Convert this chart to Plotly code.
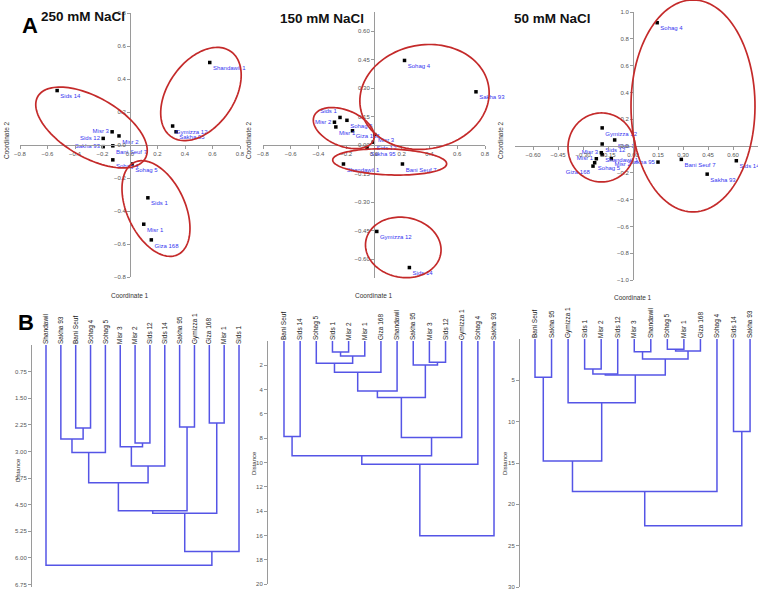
import numpy as np
import plotly.graph_objects as go

W, H = 758, 595

# ---------------- data: principal coordinates ----------------
names_250 = ["Shandawil 1", "Sids 14", "Gymizza 12", "Sakha 95", "Misr 3", "Misr 2", "Sids 12",
             "Sakha 93", "Bani Seuf 7", "Sohag 4", "Sohag 5", "Sids 1", "Misr 1", "Giza 168"]
coord1_250 = [0.58, -0.53, 0.31, 0.335, -0.13, -0.08, -0.195, -0.195, -0.125, -0.125, 0.015, 0.13, 0.10, 0.155]
coord2_250 = [0.50, 0.33, 0.115, 0.08, 0.08, 0.055, 0.04, -0.01, -0.005, -0.09, -0.115, -0.32, -0.48, -0.575]

names_150 = ["Sohag 4", "Sakha 93", "Sids 1", "Misr 2", "Sohag 5", "Misr 1", "Giza 168", "Misr 3",
             "Sids 12", "Sakha 95", "Shandawil 1", "Bani Seuf 7", "Gymizza 12", "Sids 14"]
coord1_150 = [0.22, 0.735, -0.245, -0.285, -0.195, -0.275, -0.155, 0.005, -0.005, -0.05, -0.22, 0.205, 0.02, 0.255]
coord2_150 = [0.445, 0.28, 0.145, 0.12, 0.13, 0.095, 0.075, 0.055, 0.015, -0.015, -0.10, -0.10, -0.455, -0.645]

names_50 = ["Sohag 4", "Gymizza 12", "Sids 1", "Sids 12", "Misr 3", "Shandawil 1", "Misr 1", "Misr 2",
            "Sohag 5", "Giza 168", "Sakha 95", "Bani Seuf 7", "Sids 14", "Sakha 93"]
coord1_50 = [0.145, -0.185, -0.11, -0.185, -0.19, -0.185, -0.22, -0.13, -0.23, -0.24, 0.15, 0.29, 0.62, 0.445]
coord2_50 = [0.92, 0.135, 0.045, 0.015, -0.05, -0.065, -0.095, -0.095, -0.125, -0.15, -0.12, -0.10, -0.11, -0.21]

# ---------------- data: dendrograms (leaf order, merges: child a, child b, distance) ----------------
leaves_250 = ["Shandawil", "Sakha 93", "Bani Seuf", "Sohag 4", "Sohag 5", "Misr 3", "Misr 2", "Sids 12",
              "Sids 14", "Sakha 95", "Gymizza 1", "Giza 168", "Misr 1", "Sids 1"]
merges_250 = [("Bani Seuf", "Sohag 4", 2.34), ("Sakha 93", 0, 2.65), ("Misr 2", "Sids 12", 2.76),
              ("Misr 3", 2, 2.87), (1, "Sohag 5", 3.03), (3, "Sids 14", 3.41), (4, 5, 3.88),
              ("Sakha 95", "Gymizza 1", 2.31), ("Giza 168", "Misr 1", 2.20), (6, 7, 4.67),
              (9, 8, 4.74), (10, "Sids 1", 5.82), ("Shandawil", 11, 6.21)]

leaves_150 = ["Bani Seuf", "Sids 14", "Sohag 5", "Sids 1", "Misr 2", "Misr 1", "Giza 168", "Shandawil",
              "Sakha 95", "Misr 3", "Sids 12", "Gymizza 1", "Sohag 4", "Sakha 93"]
merges_150 = [("Sids 1", "Misr 2", 0.9), (0, "Misr 1", 1.23), ("Sohag 5", 1, 1.84), (2, "Giza 168", 2.58),
              (3, "Shandawil", 4.12), ("Misr 3", "Sids 12", 1.75), ("Sakha 95", 5, 1.98), (4, 6, 4.64),
              (7, "Gymizza 1", 7.95), ("Bani Seuf", "Sids 14", 7.87), (9, 8, 9.44), (10, "Sohag 4", 10.15),
              (11, "Sakha 93", 16.02)]

leaves_50 = ["Bani Seuf", "Sakha 95", "Gymizza 1", "Sids 1", "Misr 2", "Sids 12", "Misr 3", "Shandawil",
             "Sohag 5", "Misr 1", "Giza 168", "Sohag 4", "Sids 14", "Sakha 93"]
merges_50 = [("Bani Seuf", "Sakha 95", 4.63), ("Sids 1", "Misr 2", 3.63), (1, "Sids 12", 4.23),
             ("Misr 3", "Shandawil", 1.53), ("Sohag 5", "Misr 1", 1.25), (4, "Giza 168", 1.45), (3, 5, 2.42),
             (2, 6, 4.35), ("Gymizza 1", 7, 7.7), (0, 8, 14.75), ("Sids 14", "Sakha 93", 11.2),
             (9, "Sohag 4", 18.46), (11, 10, 22.58)]

# ---------------- styling / layout ----------------
NARROW = "Liberation Sans Narrow, Arial Narrow, Liberation Sans, Arial"
SANS = "Liberation Sans, Arial"
AXC = "#9a9a9a"
TICKC = "#555555"
LABC = "#3535f0"
ELLC = "#c42a2a"
DENC = "#5555e6"

scatter_panels = [
    dict(names=names_250, x=coord1_250, y=coord2_250, box=(20, 240, 13, 277), xr=(-0.8, 0.8), yr=(-0.8, 0.8),
         xt=np.round(np.arange(-0.8, 0.81, 0.2), 2), xf=".1f", yt=np.round(np.arange(-0.8, 0.81, 0.2), 2), yf=".1f",
         pos={"Misr 3": "middle left", "Sids 12": "middle left", "Sakha 93": "middle left"},
         ell=[(0.516, 0.309, 52, 33, 55), (-0.28, 0.106, 62, 30, -30), (0.189, -0.385, 51, 29, -65)],
         title="250 mM NaCl", txy=(83, 16), c1=(130, 295), c2=(6, 140)),
    dict(names=names_150, x=coord1_150, y=coord2_150, box=(263, 485, 12, 278), xr=(-0.8, 0.8), yr=(-0.7, 0.7),
         xt=np.round(np.arange(-0.8, 0.81, 0.2), 2), xf=".1f", yt=np.round(np.arange(-0.6, 0.61, 0.15), 2), yf=".2f",
         pos={"Sids 1": "top left", "Misr 2": "middle left"},
         ell=[(0.364, 0.253, 65, 52, 10), (-0.218, 0.089, 32, 18, -22), (0.113, -0.089, 57, 13, -2),
              (0.211, -0.539, 38, 30, -10)],
         title="150 mM NaCl", txy=(322, 18), c1=(374, 295), c2=(248, 140)),
    dict(names=names_50, x=coord1_50, y=coord2_50, box=(515, 758, 12, 280), xr=(-0.708, 0.75), yr=(-1.0, 1.0),
         xt=np.round(np.arange(-0.6, 0.61, 0.15), 2), xf=".2f", yt=np.round(np.arange(-1.0, 1.01, 0.2), 2), yf=".1f",
         pos={"Misr 3": "middle left", "Misr 1": "middle left", "Giza 168": "bottom left", "Sakha 95": "middle left"},
         ell=[(0.36, 0.299, 106, 62, 90), (-0.189, -0.011, 34.5, 33.5, 90)],
         title="50 mM NaCl", txy=(552, 18), c1=(633, 297), c2=(500, 140)),
]

dendro_panels = [
    dict(leaves=leaves_250, merges=merges_250, box=(32, 250, 345, 587), xr=(-0.943, 13.74), yr=(6.82, 0),
         yt=np.round(np.arange(0.75, 6.76, 0.75), 2), yf=".2f", dist=(18, 470)),
    dict(leaves=leaves_150, merges=merges_150, box=(268, 505, 341, 584), xr=(-0.99, 13.68), yr=(20, 0),
         yt=list(range(2, 21, 2)), yf="d", dist=(254, 463)),
    dict(leaves=leaves_50, merges=merges_50, box=(520, 758, 339, 587), xr=(-0.907, 13.48), yr=(30, 0),
         yt=list(range(5, 31, 5)), yf="d", dist=(505, 463)),
]


def dom(box):
    x0, x1, y0, y1 = box
    return [x0 / W, x1 / W], [1 - y1 / H, 1 - y0 / H]


def dendro_lines(leaves, merges):
    pos = {n: (i, 0.0) for i, n in enumerate(leaves)}
    nodes = []
    xs, ys = [], []
    for a, b, h in merges:
        xa, ha = nodes[a] if isinstance(a, int) else pos[a]
        xb, hb = nodes[b] if isinstance(b, int) else pos[b]
        xs += [xa, xa, xb, xb, None]
        ys += [ha, h, h, hb, None]
        nodes.append(((xa + xb) / 2, h))
    return xs, ys


def note(text, px, py, size, family, color="#333", angle=0):
    return dict(text=text, x=px / W, y=1 - py / H, xref="paper", yref="paper", showarrow=False,
                xanchor="center", yanchor="middle", textangle=angle,
                font=dict(family=family, size=size, color=color))


fig = go.Figure()
layout = dict(width=W, height=H, margin=dict(l=0, r=0, t=0, b=0, pad=0), showlegend=False,
              template="none", plot_bgcolor="white", paper_bgcolor="white", hovermode=False)
shapes, annotations = [], []

for k, p in enumerate(scatter_panels, start=1):
    dx, dy = dom(p["box"])
    xr, yr = p["xr"], p["yr"]
    sfx = "" if k == 1 else str(k)
    px_per_x = (p["box"][1] - p["box"][0]) / (xr[1] - xr[0])
    px_per_y = (p["box"][3] - p["box"][2]) / (yr[1] - yr[0])
    zero_y = dy[0] + (0 - yr[0]) / (yr[1] - yr[0]) * (dy[1] - dy[0])
    zero_x = dx[0] + (0 - xr[0]) / (xr[1] - xr[0]) * (dx[1] - dx[0])
    axis_common = dict(showgrid=False, zeroline=False, showline=True, linecolor=AXC, linewidth=1,
                       ticks="outside", ticklen=3, tickcolor=AXC, automargin=False,
                       tickfont=dict(family=NARROW, size=6, color=TICKC), anchor="free")
    layout["xaxis" + sfx] = dict(axis_common, domain=dx, range=list(xr), position=zero_y,
                                 tickvals=list(p["xt"]), tickformat=p["xf"])
    layout["yaxis" + sfx] = dict(axis_common, domain=dy, range=list(yr), position=zero_x,
                                 tickvals=list(p["yt"]), tickformat=p["yf"])
    tp = [p["pos"].get(n, "bottom right") for n in p["names"]]
    fig.add_trace(go.Scatter(x=p["x"], y=p["y"], text=p["names"], mode="markers+text",
                             textposition=tp, cliponaxis=False,
                             marker=dict(color="black", size=3.5, symbol="square"),
                             textfont=dict(family=NARROW, size=6, color=LABC),
                             xaxis="x" + sfx, yaxis="y" + sfx))
    # ellipses (drawn in paper space so they are not clipped)
    t = np.linspace(0, 2 * np.pi, 120)
    for cx, cy, a, b, ang in p["ell"]:
        th = np.radians(ang)
        ex = a * np.cos(t) * np.cos(th) - b * np.sin(t) * np.sin(th)
        ey = a * np.cos(t) * np.sin(th) + b * np.sin(t) * np.cos(th)
        X = cx + ex / px_per_x
        Y = cy + ey / px_per_y
        PX = dx[0] + (X - xr[0]) / (xr[1] - xr[0]) * (dx[1] - dx[0])
        PY = dy[0] + (Y - yr[0]) / (yr[1] - yr[0]) * (dy[1] - dy[0])
        path = "M " + " L ".join(f"{u:.5f},{v:.5f}" for u, v in zip(PX, PY)) + " Z"
        shapes.append(dict(type="path", path=path, xref="paper", yref="paper",
                           line=dict(color=ELLC, width=1.7)))
    annotations.append(note("<b>" + p["title"] + "</b>", p["txy"][0], p["txy"][1], 13.5, SANS, "#111"))
    annotations.append(note("Coordinate 1", p["c1"][0], p["c1"][1], 6.5, NARROW))
    annotations.append(note("Coordinate 2", p["c2"][0], p["c2"][1], 6.5, NARROW, angle=-90))

for k, p in enumerate(dendro_panels, start=4):
    dx, dy = dom(p["box"])
    sfx = str(k)
    xs, ys = dendro_lines(p["leaves"], p["merges"])
    fig.add_trace(go.Scatter(x=xs, y=ys, mode="lines", line=dict(color=DENC, width=1.5),
                             xaxis="x" + sfx, yaxis="y" + sfx))
    layout["xaxis" + sfx] = dict(domain=dx, range=list(p["xr"]), anchor="y" + sfx, side="top",
                                 showgrid=False, zeroline=False, showline=False, ticks="", automargin=False,
                                 tickvals=list(range(len(p["leaves"]))), ticktext=p["leaves"],
                                 tickangle=-90, tickfont=dict(family=SANS, size=6.5, color="#222"))
    layout["yaxis" + sfx] = dict(domain=dy, range=list(p["yr"]), anchor="x" + sfx, automargin=False,
                                 showgrid=False, zeroline=False, showline=True, linecolor=AXC, linewidth=1,
                                 ticks="outside", ticklen=3, tickcolor=AXC,
                                 tickvals=list(p["yt"]), tickformat=p["yf"],
                                 tickfont=dict(family=NARROW, size=6, color=TICKC))
    annotations.append(note("Distance", p["dist"][0], p["dist"][1], 6, SANS, angle=-90))

annotations.append(note("<b>A</b>", 30, 26, 22, SANS, "black"))
annotations.append(note("<b>B</b>", 26, 322, 22, SANS, "black"))

layout["shapes"] = shapes
layout["annotations"] = annotations
fig.update_layout(**layout)
fig.write_html("out.html", config={"displayModeBar": False, "staticPlot": True},
               post_script="document.body.style.margin='0';document.body.style.padding='0';"
                           "document.documentElement.style.overflow='hidden';")
